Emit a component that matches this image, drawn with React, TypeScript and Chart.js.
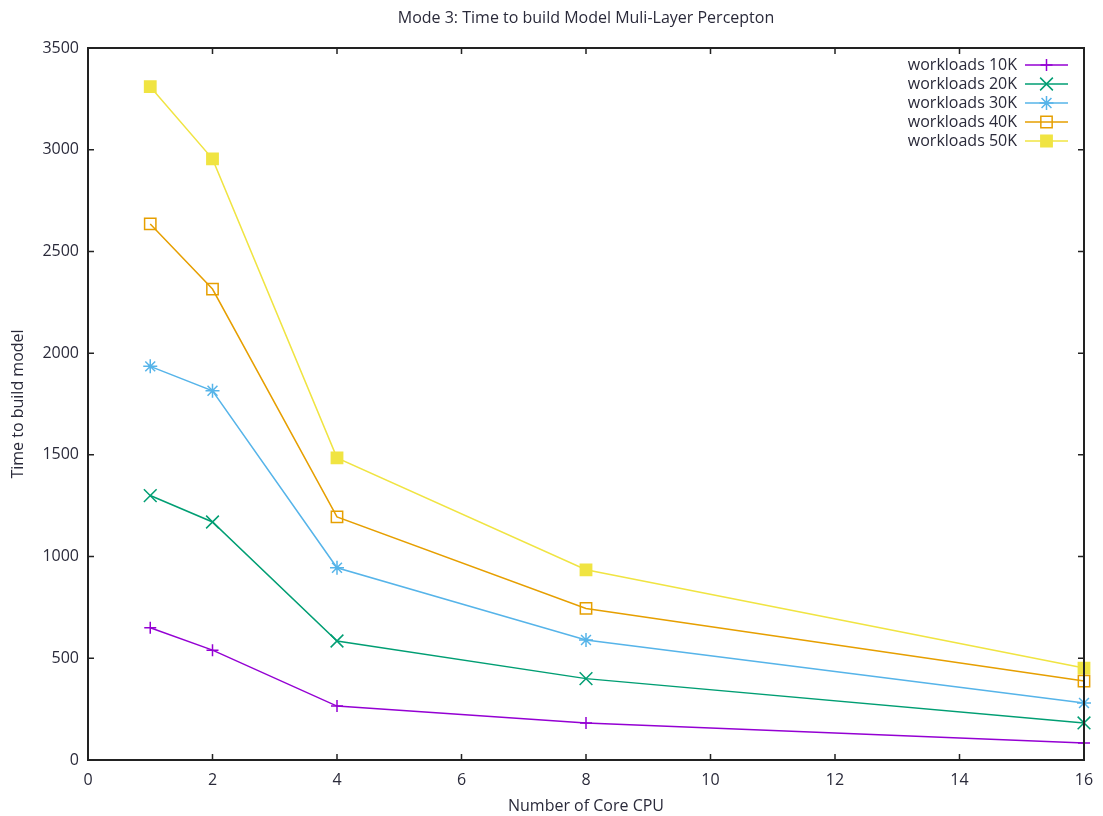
import React, { useEffect, useRef } from "react";
import { Chart, registerables } from "chart.js";

Chart.register(...registerables);

const coreCounts = [1, 2, 4, 8, 16];
const workload10K = [650, 540, 265, 182, 84];
const workload20K = [1300, 1170, 585, 400, 182];
const workload30K = [1935, 1815, 945, 590, 280];
const workload40K = [2635, 2315, 1195, 745, 388];
const workload50K = [3310, 2955, 1485, 935, 452];
const seriesLabels = ["workloads 10K", "workloads 20K", "workloads 30K", "workloads 40K", "workloads 50K"];
const xTicks = [0, 2, 4, 6, 8, 10, 12, 14, 16];
const yTicks = [0, 500, 1000, 1500, 2000, 2500, 3000, 3500];

const chartTitle = "Mode 3: Time to build Model Muli-Layer Percepton";
const xTitle = "Number of Core CPU";
const yTitle = "Time to build model";

const FONT = "'Open Sans', 'DejaVu Sans', sans-serif";
const TEXT = "#2a2a3a";

function drawPoint(ctx: any, ds: any, x: number, y: number) {
  const r = ds.pointRadius;
  ctx.save();
  ctx.strokeStyle = ds.pointBorderColor;
  ctx.fillStyle = ds.pointBackgroundColor;
  ctx.lineWidth = ds.pointBorderWidth;
  ctx.beginPath();
  const st = ds.pointStyle;
  if (st === "cross") {
    ctx.moveTo(x, y - r); ctx.lineTo(x, y + r);
    ctx.moveTo(x - r, y); ctx.lineTo(x + r, y);
    ctx.stroke();
  } else if (st === "crossRot") {
    const o = Math.cos(Math.PI / 4) * r;
    ctx.moveTo(x - o, y - o); ctx.lineTo(x + o, y + o);
    ctx.moveTo(x - o, y + o); ctx.lineTo(x + o, y - o);
    ctx.stroke();
  } else if (st === "star") {
    const o = Math.cos(Math.PI / 4) * r;
    ctx.moveTo(x, y - r); ctx.lineTo(x, y + r);
    ctx.moveTo(x - r, y); ctx.lineTo(x + r, y);
    ctx.moveTo(x - o, y - o); ctx.lineTo(x + o, y + o);
    ctx.moveTo(x - o, y + o); ctx.lineTo(x + o, y - o);
    ctx.stroke();
  } else if (st === "rect") {
    const s = Math.SQRT1_2 * r;
    ctx.rect(x - s, y - s, 2 * s, 2 * s);
    ctx.fill();
    ctx.stroke();
  }
  ctx.restore();
}

const gnuplotFrame = {
  id: "gnuplotFrame",
  afterDraw(chart: any) {
    const ctx = chart.ctx;
    const a = chart.chartArea;
    const xs = chart.scales.x;
    const ys = chart.scales.y;
    ctx.save();
    ctx.strokeStyle = "#222";
    ctx.lineWidth = 2;
    ctx.strokeRect(a.left, a.top, a.right - a.left, a.bottom - a.top);
    const tl = 6;
    ctx.lineWidth = 1.5;
    ctx.beginPath();
    xTicks.forEach((v) => {
      const px = xs.getPixelForValue(v);
      ctx.moveTo(px, a.bottom);
      ctx.lineTo(px, a.bottom - tl);
      ctx.moveTo(px, a.top);
      ctx.lineTo(px, a.top + tl);
    });
    yTicks.forEach((v) => {
      const py = ys.getPixelForValue(v);
      ctx.moveTo(a.left, py);
      ctx.lineTo(a.left + tl, py);
      ctx.moveTo(a.right, py);
      ctx.lineTo(a.right - tl, py);
    });
    ctx.stroke();

    ctx.fillStyle = TEXT;
    ctx.font = `16px ${FONT}`;
    ctx.textAlign = "center";
    ctx.textBaseline = "middle";
    ctx.fillText(chartTitle, (a.left + a.right) / 2, 18);
    ctx.fillText(xTitle, (a.left + a.right) / 2, 806);
    ctx.save();
    ctx.translate(18, (a.top + a.bottom) / 2);
    ctx.rotate(-Math.PI / 2);
    ctx.fillText(yTitle, 0, 0);
    ctx.restore();

    const textRight = 1017;
    const lineL = 1025;
    const lineR = 1068;
    chart.data.datasets.forEach((ds: any, i: number) => {
      const y = 65 + i * 19;
      ctx.fillStyle = TEXT;
      ctx.textAlign = "right";
      ctx.textBaseline = "middle";
      ctx.font = `16px ${FONT}`;
      ctx.fillText(ds.label, textRight, y);
      ctx.strokeStyle = ds.borderColor;
      ctx.lineWidth = ds.borderWidth;
      ctx.beginPath();
      ctx.moveTo(lineL, y);
      ctx.lineTo(lineR, y);
      ctx.stroke();
      drawPoint(ctx, ds, (lineL + lineR) / 2, y);
    });
    ctx.restore();
  },
};

function makeSet(label: string, values: number[], color: string, style: string, radius: number, fill: string) {
  return {
    label,
    data: coreCounts.map((c, i) => ({ x: c, y: values[i] })),
    borderColor: color,
    backgroundColor: color,
    borderWidth: 1.5,
    pointStyle: style,
    pointRadius: radius,
    pointHoverRadius: radius,
    pointBorderColor: color,
    pointBackgroundColor: fill,
    pointBorderWidth: 1.5,
    fill: false,
    tension: 0,
    clip: false,
  };
}

export default function App() {
  const ref = useRef<HTMLCanvasElement>(null);
  useEffect(() => {
    document.body.style.margin = "0";
    const chart = new Chart(ref.current!, {
      type: "line",
      data: {
        datasets: [
          makeSet(seriesLabels[0], workload10K, "#9400d3", "cross", 6, "#9400d3"),
          makeSet(seriesLabels[1], workload20K, "#009e73", "crossRot", 9, "#009e73"),
          makeSet(seriesLabels[2], workload30K, "#56b4e9", "star", 7, "#56b4e9"),
          makeSet(seriesLabels[3], workload40K, "#e69f00", "rect", 8, "rgba(255,255,255,0)"),
          makeSet(seriesLabels[4], workload50K, "#f0e442", "rect", 8, "#f0e442"),
        ],
      },
      plugins: [gnuplotFrame],
      options: {
        animation: false,
        responsive: false,
        layout: { padding: { top: 48, right: 19, left: 0, bottom: 0 } },
        plugins: {
          legend: { display: false },
          title: { display: false },
          tooltip: { enabled: false },
        },
        scales: {
          x: {
            type: "linear",
            min: 0,
            max: 16,
            afterFit: (s: any) => { s.height = 56; s.paddingLeft = 0; s.paddingRight = 0; },
            afterBuildTicks: (s: any) => { s.ticks = xTicks.map((v) => ({ value: v })); },
            grid: { display: false, drawTicks: false },
            border: { display: false },
            ticks: { color: TEXT, font: { family: FONT, size: 16 }, padding: 11, callback: (v: any) => String(v) },
          },
          y: {
            type: "linear",
            min: 0,
            max: 3500,
            afterFit: (s: any) => { s.width = 88; s.paddingTop = 0; s.paddingBottom = 0; },
            afterBuildTicks: (s: any) => { s.ticks = yTicks.map((v) => ({ value: v })); },
            grid: { display: false, drawTicks: false },
            border: { display: false },
            ticks: { color: TEXT, font: { family: FONT, size: 16 }, padding: 9, callback: (v: any) => String(v) },
          },
        },
      } as any,
    });
    return () => chart.destroy();
  }, []);
  return (
    <div style={{ position: "absolute", left: 0, top: 0, width: 1103, height: 816 }}>
      <canvas ref={ref} width={1103} height={816} style={{ width: 1103, height: 816, display: "block" }} />
    </div>
  );
}
